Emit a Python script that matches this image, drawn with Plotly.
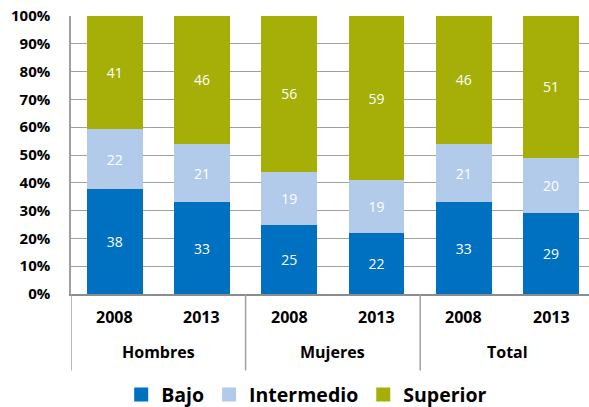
import plotly.graph_objects as go

groups = ["Hombres", "Hombres", "Mujeres", "Mujeres", "Total", "Total"]
years = ["2008", "2013", "2008", "2013", "2008", "2013"]
bajo = [38, 33, 25, 22, 33, 29]
intermedio = [22, 21, 19, 19, 21, 20]
superior = [41, 46, 56, 59, 46, 51]
group_names = ["Hombres", "Mujeres", "Total"]
yticks = [0, 10, 20, 30, 40, 50, 60, 70, 80, 90, 100]

series = [
    ("Bajo", bajo, "#0070C0"),
    ("Intermedio", intermedio, "#B3CBEA"),
    ("Superior", superior, "#A5AF08"),
]

FONT = "Open Sans"
x = list(range(len(years)))

fig = go.Figure()
for name, vals, col in series:
    fig.add_trace(go.Bar(
        x=x, y=vals, name=name, showlegend=False,
        marker=dict(color=col, line=dict(width=0)),
        text=[str(v) for v in vals],
        textposition="inside", insidetextanchor="middle",
        textfont=dict(color="white", size=14, family=FONT),
        width=0.64,
    ))
# legend proxies (square markers)
for name, vals, col in series:
    fig.add_trace(go.Scatter(
        x=[None], y=[None], mode="markers", name=name,
        marker=dict(symbol="square", size=14, color=col),
        showlegend=True,
    ))

annotations = []
for i, yr in enumerate(years):
    annotations.append(dict(x=i, y=-0.082, xref="x", yref="paper", text="<b>%s</b>" % yr,
                            showarrow=False, yanchor="middle", xanchor="center",
                            font=dict(size=16, family=FONT, color="#000000")))
for gi, g in enumerate(group_names):
    idx = [i for i, gg in enumerate(groups) if gg == g]
    cx = sum(idx) / len(idx)
    annotations.append(dict(x=cx, y=-0.21, xref="x", yref="paper", text="<b>%s</b>" % g,
                            showarrow=False, yanchor="middle", xanchor="center",
                            font=dict(size=16, family=FONT, color="#000000")))

shapes = []
for b in [-0.5, 1.5, 3.5]:
    shapes.append(dict(type="line", xref="x", yref="paper", x0=b, x1=b, y0=0, y1=-0.275,
                       line=dict(color="#A0A0A0", width=1.5)))

fig.update_layout(
    barmode="stack", barnorm="percent",
    width=589, height=407,
    margin=dict(l=71, r=0, t=16, b=113),
    paper_bgcolor="white", plot_bgcolor="white",
    font=dict(family=FONT, color="#000000"),
    showlegend=True,
    legend=dict(orientation="h", x=0.455, y=0.03, xanchor="center", yanchor="middle",
                yref="container",
                font=dict(size=19.5, family=FONT, color="#000000", weight="bold"),
                traceorder="normal", itemwidth=30, itemsizing="trace",
                bgcolor="rgba(0,0,0,0)"),
    annotations=annotations,
    shapes=shapes,
)
fig.update_xaxes(range=[-0.5, 5.434], showticklabels=False, showgrid=False, zeroline=False,
                 showline=True, linecolor="#8C8C8C", linewidth=2, ticks="", fixedrange=True,
                 automargin=False)
fig.update_yaxes(range=[0, 100], tickvals=yticks, ticktext=["<b>%d%%</b>" % v for v in yticks],
                 tickfont=dict(size=15, family=FONT, color="#000000"),
                 showgrid=True, gridcolor="#A0A0A0", gridwidth=1.2, zeroline=False,
                 showline=True, linecolor="#A0A0A0", linewidth=1.5, ticks="",
                 ticklabelstandoff=16, automargin=False, fixedrange=True)

fig.write_html("out.html", config={"displayModeBar": False},
               post_script="document.body.style.margin='0';document.body.style.padding='0';")
